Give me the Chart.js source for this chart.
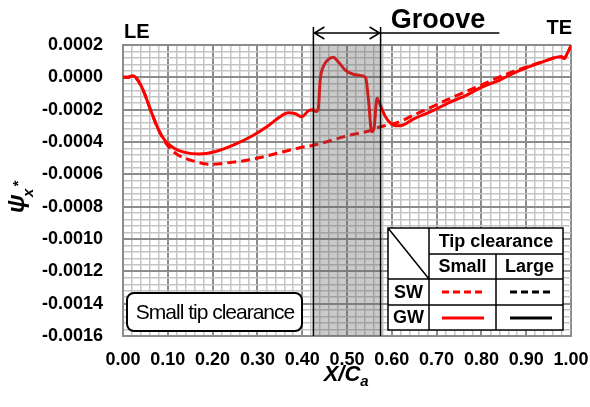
<!DOCTYPE html>
<html>
<head>
<meta charset="utf-8">
<script src="https://cdn.jsdelivr.net/npm/chart.js@4.4.1/dist/chart.umd.min.js"></script>
<style>
    body { margin: 0; background: #fff; }
    canvas { display: block; }
</style>
</head>
<body>
<canvas id="psi__canvas" width="590" height="407"></canvas>
<script>
// values (X/Ca, psi_x*)
var gwX = [0.000, 0.010, 0.022, 0.030, 0.040, 0.048, 0.063, 0.078, 0.093, 0.115, 0.138, 0.170, 0.205, 0.246, 0.290, 0.321, 0.350, 0.369, 0.385, 0.399, 0.414, 0.425, 0.431, 0.436, 0.440, 0.447, 0.458, 0.469, 0.480, 0.496, 0.514, 0.536, 0.542, 0.548, 0.555, 0.560, 0.567, 0.574, 0.585, 0.596, 0.611, 0.625, 0.648, 0.693, 0.723, 0.767, 0.797, 0.842, 0.871, 0.916, 0.946, 0.968, 0.978, 0.985, 0.992, 1.000];
var gwY = [0.000000, 0.000000, 0.000010, -0.000005, -0.000050, -0.000100, -0.000213, -0.000316, -0.000388, -0.000440, -0.000464, -0.000474, -0.000460, -0.000420, -0.000360, -0.000306, -0.000245, -0.000219, -0.000225, -0.000244, -0.000207, -0.000200, -0.000212, -0.000192, -0.000020, 0.000066, 0.000110, 0.000124, 0.000097, 0.000045, 0.000019, 0.000008, -0.000006, -0.000140, -0.000336, -0.000320, -0.000130, -0.000170, -0.000240, -0.000280, -0.000300, -0.000295, -0.000258, -0.000205, -0.000162, -0.000110, -0.000065, -0.000015, 0.000025, 0.000076, 0.000105, 0.000125, 0.000128, 0.000117, 0.000150, 0.000195];

var swX = [0.000, 0.010, 0.022, 0.030, 0.040, 0.048, 0.063, 0.078, 0.093, 0.105, 0.123, 0.160, 0.195, 0.230, 0.283, 0.358, 0.395, 0.425, 0.507, 0.555, 0.574, 0.596, 0.610, 0.648, 0.723, 0.797, 0.870, 0.916, 0.946, 0.968, 0.978, 0.985, 0.992, 1.000];
var swY = [0.000000, 0.000000, 0.000010, -0.000005, -0.000050, -0.000100, -0.000213, -0.000316, -0.000395, -0.000440, -0.000480, -0.000520, -0.000538, -0.000530, -0.000510, -0.000460, -0.000435, -0.000420, -0.000357, -0.000327, -0.000306, -0.000292, -0.000282, -0.000235, -0.000140, -0.000050, 0.000035, 0.000078, 0.000105, 0.000125, 0.000128, 0.000117, 0.000150, 0.000195];

var xTickLabels = ['0.00', '0.10', '0.20', '0.30', '0.40', '0.50', '0.60', '0.70', '0.80', '0.90', '1.00'];
var yTickLabels = ['-0.0016', '-0.0014', '-0.0012', '-0.0010', '-0.0008', '-0.0006', '-0.0004', '-0.0002', '0.0000', '0.0002'];

var grooveStart = 0.425;
var grooveEnd = 0.575;

var FONT = 'Arial, "Liberation Sans", sans-serif';
var MAJOR = '#8c8c8c';
var MINOR = '#c4c4c4';

function toPoints(xs, ys) {
    return xs.map(function (v, i) { return { x: v, y: ys[i] }; });
}

// white page, shaded groove band over the curves, texts and the legend table
var decor = {
    id: 'decor',
    beforeDraw: function (chart) {
        var ctx = chart.ctx;
        ctx.save();
        ctx.fillStyle = '#fff';
        ctx.fillRect(0, 0, chart.width, chart.height);
        ctx.restore();
    },
    afterDatasetsDraw: function (chart) {
        var ctx = chart.ctx, a = chart.chartArea, x = chart.scales.x;
        var g0 = x.getPixelForValue(grooveStart), g1 = x.getPixelForValue(grooveEnd);
        ctx.save();
        ctx.fillStyle = 'rgba(95,95,95,0.33)';
        ctx.fillRect(g0, a.top, g1 - g0, a.bottom - a.top);
        ctx.restore();
    },
    afterDraw: function (chart) {
        var ctx = chart.ctx, a = chart.chartArea, x = chart.scales.x;
        var g0 = x.getPixelForValue(grooveStart), g1 = x.getPixelForValue(grooveEnd);
        ctx.save();

        // groove limits + arrow
        ctx.strokeStyle = '#000';
        ctx.lineWidth = 1.5;
        ctx.beginPath();
        ctx.moveTo(g0, 27); ctx.lineTo(g0, a.bottom);
        ctx.moveTo(g1, 27); ctx.lineTo(g1, a.bottom);
        ctx.moveTo(g0, 33); ctx.lineTo(x.getPixelForValue(0.84), 33);
        ctx.moveTo(g0 + 11, 27); ctx.lineTo(g0 + 1, 33); ctx.lineTo(g0 + 11, 39);
        ctx.moveTo(g1 - 11, 27); ctx.lineTo(g1 - 1, 33); ctx.lineTo(g1 - 11, 39);
        ctx.stroke();

        ctx.fillStyle = '#000';
        ctx.textBaseline = 'alphabetic';
        ctx.font = 'bold 27px ' + FONT;
        ctx.textAlign = 'center';
        ctx.fillText('Groove', 438, 28);
        ctx.font = 'bold 20px ' + FONT;
        ctx.textAlign = 'left';
        ctx.fillText('LE', a.left + 1, 38);
        ctx.textAlign = 'right';
        ctx.fillText('TE', a.right + 1, 34);

        // x axis title
        ctx.textAlign = 'left';
        ctx.font = 'italic bold 22px ' + FONT;
        var w = ctx.measureText('X/C').width;
        var tx = (a.left + a.right) / 2 - (w + 10) / 2;
        ctx.fillText('X/C', tx, 381);
        ctx.font = 'italic bold 15px ' + FONT;
        ctx.fillText('a', tx + w, 386);

        // y axis title
        ctx.save();
        ctx.translate(20, 195);
        ctx.rotate(-Math.PI / 2);
        ctx.font = 'italic bold 24px ' + FONT;
        ctx.fillText('\u03c8', -18, 4);
        ctx.font = 'italic bold 15px ' + FONT;
        ctx.fillText('x', -2, 13);
        ctx.fillText('*', 8, 3);
        ctx.restore();

        // "Small tip clearance" box
        ctx.beginPath();
        ctx.roundRect(127, 293, 175, 38, 7);
        ctx.fillStyle = '#fff';
        ctx.fill();
        ctx.lineWidth = 2;
        ctx.strokeStyle = '#000';
        ctx.stroke();
        ctx.fillStyle = '#000';
        ctx.font = '21px ' + FONT;
        ctx.letterSpacing = '-1px';
        ctx.textAlign = 'center';
        ctx.fillText('Small tip clearance', 215, 319);
        ctx.letterSpacing = '0px';

        // legend table
        var L = 388, R = 563, T = 228, B = 330, c1 = 429, c2 = 496, r1 = 254, r2 = 279, r3 = 305;
        ctx.fillStyle = '#fff';
        ctx.fillRect(L, T, R - L, B - T);
        ctx.lineWidth = 1.5;
        ctx.beginPath();
        ctx.rect(L, T, R - L, B - T);
        ctx.moveTo(c1, T); ctx.lineTo(c1, B);
        ctx.moveTo(c2, r1); ctx.lineTo(c2, B);
        ctx.moveTo(c1, r1); ctx.lineTo(R, r1);
        ctx.moveTo(L, r2); ctx.lineTo(R, r2);
        ctx.moveTo(L, r3); ctx.lineTo(R, r3);
        ctx.moveTo(L, T); ctx.lineTo(c1, r2);
        ctx.stroke();

        ctx.fillStyle = '#000';
        ctx.font = 'bold 18px ' + FONT;
        ctx.textAlign = 'center';
        ctx.textBaseline = 'middle';
        ctx.fillText('Tip clearance', (c1 + R) / 2, (T + r1) / 2 + 1);
        ctx.fillText('Small', (c1 + c2) / 2, (r1 + r2) / 2 + 1);
        ctx.fillText('Large', (c2 + R) / 2, (r1 + r2) / 2 + 1);
        ctx.fillText('SW', (L + c1) / 2, (r2 + r3) / 2 + 1);
        ctx.fillText('GW', (L + c1) / 2, (r3 + B) / 2 + 1);

        function sample(x0, x1, yy, color, dash) {
            ctx.beginPath();
            ctx.setLineDash(dash);
            ctx.strokeStyle = color;
            ctx.lineWidth = 3;
            ctx.moveTo(x0, yy); ctx.lineTo(x1, yy);
            ctx.stroke();
        }
        sample(442, 484, 292, '#ff0000', [7, 4]);
        sample(510, 552, 292, '#000', [7, 4]);
        sample(442, 484, 318, '#ff0000', []);
        sample(510, 552, 318, '#000', []);
        ctx.restore();
    }
};

function noEdgePadding(s) {
    s.paddingLeft = 0;
    s.paddingRight = 0;
    s.paddingTop = 0;
    s.paddingBottom = 0;
}

var ctr = document.getElementById('psi__canvas');
var chart = new Chart(ctr, {
    type: 'line',
    data: {
        datasets: [{
            label: 'GW small',
            data: toPoints(gwX, gwY),
            borderColor: '#ff0000',
            borderWidth: 3,
            pointRadius: 0,
            fill: false,
            cubicInterpolationMode: 'monotone'
        }, {
            label: 'SW small',
            data: toPoints(swX, swY),
            borderColor: '#ff0000',
            borderWidth: 3,
            borderDash: [9, 5],
            pointRadius: 0,
            fill: false,
            cubicInterpolationMode: 'monotone'
        }]
    },
    options: {
        responsive: false,
        animation: false,
        events: [],
        layout: { padding: { top: 45, right: 19, left: 0, bottom: 0 } },
        plugins: { legend: { display: false }, tooltip: { enabled: false } },
        scales: {
            x: {
                type: 'linear',
                min: 0,
                max: 1,
                afterFit: function (s) { s.height = 71; noEdgePadding(s); },
                ticks: {
                    stepSize: 0.02,
                    autoSkip: false,
                    maxRotation: 0,
                    padding: 13,
                    color: '#000',
                    font: { family: FONT, size: 18, weight: 'bold' },
                    callback: function (v, i) { return i % 5 === 0 ? xTickLabels[i / 5] : ''; }
                },
                grid: {
                    drawTicks: false,
                    color: function (c) { return c.index % 5 === 0 ? MAJOR : MINOR; },
                    lineWidth: function (c) { return c.index % 5 === 0 ? 2 : 1.5; }
                },
                border: { color: MAJOR, width: 2 }
            },
            y: {
                min: -0.0016,
                max: 0.0002,
                afterFit: function (s) { s.width = 123; noEdgePadding(s); },
                ticks: {
                    stepSize: 0.00004,
                    autoSkip: false,
                    padding: 20,
                    color: '#000',
                    font: { family: FONT, size: 18, weight: 'bold' },
                    callback: function (v, i) { return i % 5 === 0 ? yTickLabels[i / 5] : ''; }
                },
                grid: {
                    drawTicks: false,
                    color: function (c) { return c.index % 5 === 0 ? MAJOR : MINOR; },
                    lineWidth: function (c) { return c.index % 5 === 0 ? 2 : 1.5; }
                },
                border: { color: MAJOR, width: 2 }
            }
        }
    },
    plugins: [decor]
});
</script>
</body>
</html>
